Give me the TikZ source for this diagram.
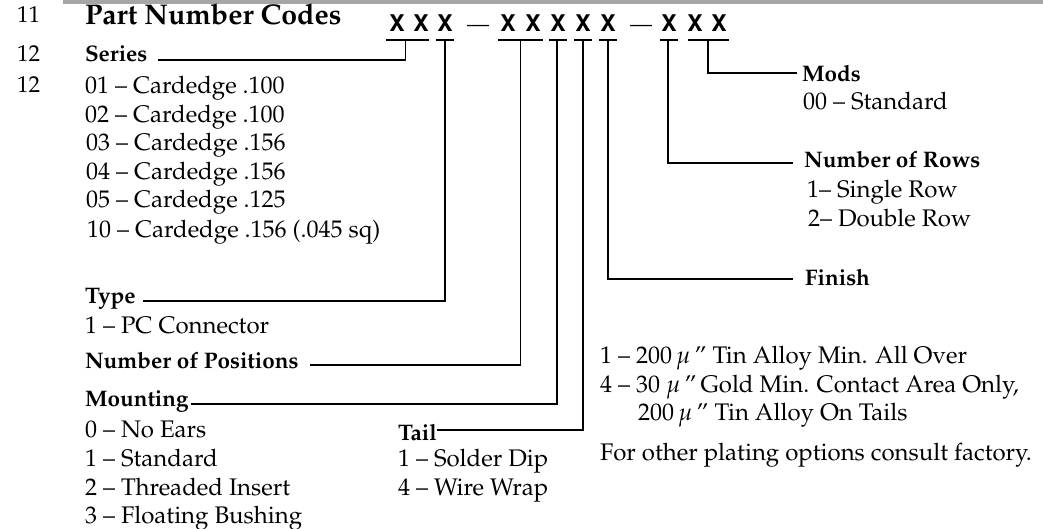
\documentclass[tikz,border=0pt]{standalone}
\usepackage[T1]{fontenc}
\usepackage{mathpazo}
\usepackage{helvet}
\usetikzlibrary{calc}
\tikzset{
  txt/.style={anchor=base west, inner sep=0pt, outer sep=0pt, font=\fontsize{24}{24}\selectfont},
  hd/.style={anchor=base west, inner sep=0pt, outer sep=0pt, font=\fontsize{22.5}{24}\selectfont\bfseries},
  title/.style={anchor=base west, inner sep=0pt, outer sep=0pt, font=\fontsize{28.5}{28}\selectfont\bfseries},
  num/.style={anchor=base west, inner sep=0pt, outer sep=0pt, font=\fontsize{23}{23}\selectfont},
  xch/.style={anchor=base, inner sep=0pt, outer sep=0pt, font=\fontsize{23}{23}\selectfont\sffamily\bfseries},
  dsh/.style={anchor=base, inner sep=0pt, outer sep=0pt, font=\fontsize{22}{22}\selectfont},
  lead/.style={line width=1.7pt, line join=miter},
  tbar/.style={line width=2.2pt},
}
\begin{document}
\begin{tikzpicture}[x=1pt,y=-1pt]
\useasboundingbox (0,0) rectangle (1043,529);
% scan band at the top
\fill[black!35] (63,0) rectangle (1043,4.5);

% line numbers
\node[num] (n11) at (17,23) {11};
\node[num] (n12a) at (17,62) {12};
\node[num] (n12b) at (17,93) {12};

% title and code
\node[title] (ttl) at (85,25) {Part Number Codes};
\node[xch] (x1) at (397,32) {X};
\node[xch] (x2) at (421,32) {X};
\node[xch] (x3) at (445,32) {X};
\node[dsh] (d1) at (478,32) {---};
\node[xch] (x4) at (508,32) {X};
\node[xch] (x5) at (533,32) {X};
\node[xch] (x6) at (558,32) {X};
\node[xch] (x7) at (583,32) {X};
\node[xch] (x8) at (608,32) {X};
\node[dsh] (d2) at (641,32) {---};
\node[xch] (x9) at (669,32) {X};
\node[xch] (x10) at (695,32) {X};
\node[xch] (x11) at (719,32) {X};

% Series
\node[hd] (ser) at (85,62) {Series};
\node[txt] (s01) at (85,94) {01 -- Cardedge .100};
\node[txt] (s02) at (85,123) {02 -- Cardedge .100};
\node[txt] (s03) at (86,151) {03 -- Cardedge .156};
\node[txt] (s04) at (86,180) {04 -- Cardedge .156};
\node[txt] (s05) at (86,208) {05 -- Cardedge .125};
\node[txt] (s10) at (87,237) {10 -- Cardedge .156 (.045 sq)};

% Type
\node[hd] (typ) at (85,303) {Type};
\node[txt] (t1) at (85,333) {1 -- PC Connector};

% Number of positions
\node[hd] (nop) at (85,368) {Number of Positions};

% Mounting
\node[hd] (mnt) at (85,406) {Mounting};
\node[txt] (m0) at (85,437) {0 -- No Ears};
\node[txt] (m1) at (85,466) {1 -- Standard};
\node[txt] (m2) at (85,495) {2 -- Threaded Insert};
\node[txt] (m3) at (85,523) {3 -- Floating Bushing};

% Tail
\node[hd] (tail) at (398,440) {Tail};
\node[txt] (tl1) at (398,466) {1 -- Solder Dip};
\node[txt] (tl4) at (398,495) {4 -- Wire Wrap};

% Finish
\node[hd] (fin) at (805,285) {Finish};
\node[txt] (f1) at (600,363) {1 -- 200\,$\mu$\,'' Tin Alloy Min. All Over};
\node[txt] (f4) at (600,392) {4 -- 30 $\mu$\,''\,Gold Min. Contact Area Only,};
\node[txt] (f4b) at (638,420) {200\,$\mu$\,'' Tin Alloy On Tails};
\node[txt] (fo) at (600,460) {For other plating options consult factory.};

% Rows
\node[hd] (rows) at (804,168) {Number of Rows};
\node[txt] (r1) at (807,198) {1-- Single Row};
\node[txt] (r2) at (808,227) {2-- Double Row};

% Mods
\node[hd] (mods) at (802,82) {Mods};
\node[txt] (md0) at (803,110) {00 -- Standard};

% leader ends
\coordinate (serE) at (158,60);
\coordinate (typE) at (143,301);
\coordinate (nopE) at (310,365);
\coordinate (mntE) at (191,404);
\coordinate (tailE) at (437,430);
\coordinate (finE) at (793,279);
\coordinate (rowE) at (793,163);
\coordinate (modE) at (797,73);

% bars under the code letters
\draw[tbar] ($(x1.base)+(-11,8)$) -- ($(x2.base)+(8,8)$);
\draw[tbar] ($(x3.base)+(-9,8)$) -- ($(x3.base)+(9,8)$);
\draw[tbar] ($(x4.base)+(-10,8)$) -- ($(x5.base)+(10,8)$);
\draw[tbar] ($(x6.base)+(-9,8)$) -- ($(x6.base)+(9,8)$);
\draw[tbar] ($(x7.base)+(-9,8)$) -- ($(x7.base)+(9,8)$);
\draw[tbar] ($(x8.base)+(-9,8)$) -- ($(x8.base)+(9,8)$);
\draw[tbar] ($(x9.base)+(-9,8)$) -- ($(x9.base)+(9,8)$);
\draw[tbar] ($(x10.base)+(-7,8)$) -- ($(x11.base)+(10,8)$);

% leaders
\draw[lead] ($(x1.base)!0.35!(x2.base)+(0,8)$) |- (serE);
\draw[lead] ($(x3.base)+(0,8)$) |- (typE);
\draw[lead] ($(x4.base)!0.5!(x5.base)+(0,8)$) |- (nopE);
\draw[lead] ($(x6.base)+(-1,8)$) |- (mntE);
\draw[lead] ($(x7.base)+(0,8)$) |- (tailE);
\draw[lead] ($(x8.base)+(0,8)$) |- (finE);
\draw[lead] ($(x9.base)+(-1,8)$) |- (rowE);
\draw[lead] ($(x10.base)!0.5!(x11.base)+(1,8)$) |- (modE);
\end{tikzpicture}
\end{document}
